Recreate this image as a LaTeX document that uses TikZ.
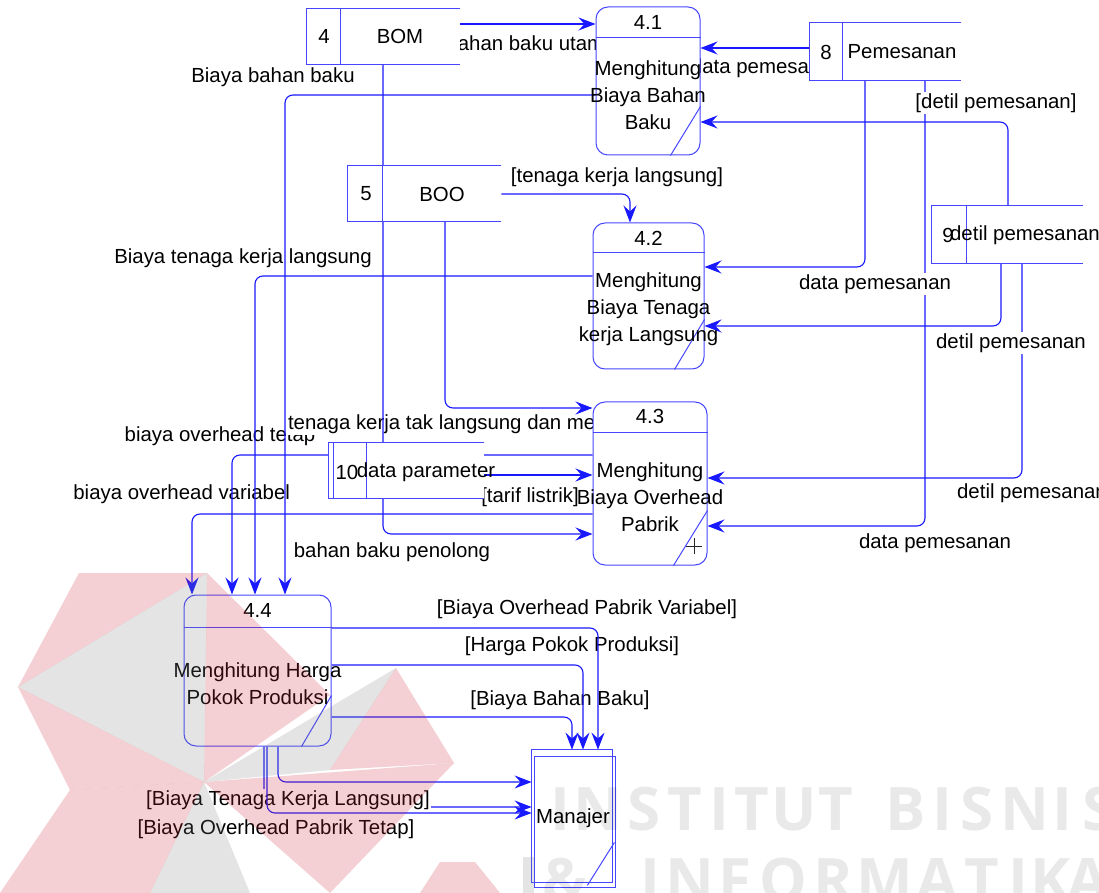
\documentclass[tikz,border=0pt]{standalone}
\usepackage{fontspec}
\setmainfont{Liberation Sans}
\newfontfamily\wmfont{Open Sans}
\usetikzlibrary{arrows.meta,calc}

\definecolor{dfdline}{RGB}{25,25,255}
\definecolor{dfdbox}{RGB}{70,70,255}
\definecolor{wmred}{RGB}{205,40,55}
\definecolor{wmgray}{RGB}{120,120,120}

\newcommand\lbl{\fontsize{10.2}{13.5}\selectfont}

\pgfdeclarelayer{lab}
\pgfdeclarelayer{over}
\pgfdeclarelayer{box}
\pgfdeclarelayer{wm}
\pgfsetlayers{main,lab,over,box,wm}

\tikzset{
  flow/.style={draw=dfdline, line width=0.55pt, rounded corners=4pt,
    -{Stealth[length=8.5pt,width=6.5pt,inset=3pt]}},
  boxline/.style={draw=dfdbox, line width=0.5pt},
  procbox/.style={boxline, fill=white, rounded corners=6pt, inner sep=0pt},
  storebox/.style={fill=white, inner sep=0pt},
  lab/.style={fill=white, inner sep=0.8pt, font=\lbl},
  ptext/.style={align=center, inner sep=0pt, font=\lbl},
  wmletter/.style={anchor=base, inner sep=0pt, text=black, text opacity=0.085,
    font=\wmfont\bfseries\fontsize{30}{30}\selectfont},
  wmr/.style={fill=wmred, fill opacity=0.22, draw=none},
  wmg/.style={fill=wmgray, fill opacity=0.2, draw=none},
}

\begin{document}
\begin{tikzpicture}[x=0.5pt, y=-0.5pt]
\useasboundingbox (0,0) rectangle (1099,893);
\fill[white] (0,0) rectangle (1099,893);

% ---------------- processes, stores and the external entity
\begin{pgfonlayer}{box}
  % process 4.1
  \node[procbox, minimum width=52pt, minimum height=74pt] (p41) at (648,81) {};
  \draw[boxline] (p41.west |- 0,38) -- (p41.east |- 0,38);
  \draw[boxline] ($(p41.south east)+(-30,0)$) -- ($(p41.south east)+(0,-49)$);
  \node[ptext] at (p41.north |- 0,22) {4.1};
  \node[ptext] at (p41.center |- 0,95) {Menghitung\\Biaya Bahan\\Baku};

  % process 4.2
  \node[procbox, minimum width=55.5pt, minimum height=73pt] (p42) at (648.5,296) {};
  \draw[boxline] (p42.west |- 0,253) -- (p42.east |- 0,253);
  \draw[boxline] ($(p42.south east)+(-30,0)$) -- ($(p42.south east)+(0,-50)$);
  \node[ptext] at (p42.north |- 0,238) {4.2};
  \node[ptext] at (p42.center |- 0,309) {Menghitung\\Biaya Tenaga\\kerja Langsung};

  % process 4.3
  \node[procbox, minimum width=57pt, minimum height=81.5pt] (p43) at (650,483.5) {};
  \draw[boxline] (p43.west |- 0,433) -- (p43.east |- 0,433);
  \draw[boxline] ($(p43.south east)+(-34,0)$) -- ($(p43.south east)+(0,-55)$);
  \draw[black!85, line width=0.45pt] (694,538) -- (694,554) (686,546) -- (702,546);
  \node[ptext] at (p43.north |- 0,416) {4.3};
  \node[ptext] at (p43.center |- 0,497) {Menghitung\\Biaya Overhead\\Pabrik};

  % process 4.4
  \node[procbox, minimum width=73.5pt, minimum height=75.5pt] (p44) at (257.5,670.5) {};
  \draw[boxline] (p44.west |- 0,627) -- (p44.east |- 0,627);
  \draw[boxline] ($(p44.south east)+(-30,0)$) -- ($(p44.south east)+(0,-51)$);
  \node[ptext] at (p44.north |- 0,610) {4.4};
  \node[ptext] at (p44.center |- 0,684) {Menghitung Harga\\Pokok Produksi};

  % data store 4
  \node[storebox, minimum width=76.5pt, minimum height=27.5pt] (s4) at (383.5,36.5) {};
  \draw[boxline] (s4.north east) -- (s4.north west) -- (s4.south west) -- (s4.south east);
  \draw[boxline] ($(s4.north west)+(34,0)$) -- ($(s4.south west)+(34,0)$);
  \node[ptext] at (324,36) {4};
  \node[ptext] at (400,36) {BOM};

  % data store 8
  \node[storebox, minimum width=75.5pt, minimum height=28.5pt] (s8) at (885.5,51.5) {};
  \draw[boxline] (s8.north east) -- (s8.north west) -- (s8.south west) -- (s8.south east);
  \draw[boxline] ($(s8.north west)+(33,0)$) -- ($(s8.south west)+(33,0)$);
  \node[ptext] at (826,52) {8};
  \node[ptext] at (902,52) {Pemesanan};

  % data store 5
  \node[storebox, minimum width=76.5pt, minimum height=27.5pt] (s5) at (424.5,193.5) {};
  \draw[boxline] (s5.north east) -- (s5.north west) -- (s5.south west) -- (s5.south east);
  \draw[boxline] ($(s5.north west)+(35,0)$) -- ($(s5.south west)+(35,0)$);
  \node[ptext] at (366,194) {5};
  \node[ptext] at (442,194) {BOO};

  % data store 9
  \node[storebox, minimum width=75.5pt, minimum height=28.5pt] (s9) at (1007.5,234.5) {};
  \draw[boxline] (s9.north east) -- (s9.north west) -- (s9.south west) -- (s9.south east);
  \draw[boxline] ($(s9.north west)+(35,0)$) -- ($(s9.south west)+(35,0)$);
  \node[ptext] at (948,235) {9};
  \node[ptext] at (1025,235) {detil pemesanan};

  % data store 10 (double left edge)
  \node[storebox, minimum width=77.5pt, minimum height=27.5pt] (s10) at (406.5,470.5) {};
  \draw[boxline] (s10.north east) -- (s10.north west) -- (s10.south west) -- (s10.south east);
  \draw[boxline] ($(s10.north west)+(5,0)$) -- ($(s10.south west)+(5,0)$);
  \draw[boxline] ($(s10.north west)+(38,0)$) -- ($(s10.south west)+(38,0)$);
  \node[ptext] at (347,472) {10};
  \node[ptext] at (426,472) {data parameter};

  % external entity with its shadow outline
  \node[storebox, minimum width=40pt, minimum height=66pt] (ext) at (572,816) {};
  \fill[white] ($(ext.north west)+(3,7)$) rectangle ($(ext.south east)+(3,5)$);
  \draw[boxline] ($(ext.north west)+(3,7)$) rectangle ($(ext.south east)+(3,5)$);
  \draw[boxline] (ext.north west) rectangle (ext.south east);
  \draw[boxline] ($(ext.south east)+(-25,3)$) -- ($(ext.south east)+(2,-40)$);
  \node[ptext] at (573,818) {Manajer};
\end{pgfonlayer}

% ---------------- flows that run beneath the labels
\draw[flow] (s9.south -| 1022,0) -- (1022,478) -- (p43.east |- 0,478);
\draw[flow] (s8.south -| 925,0) -- (925,526) -- (p43.east |- 0,526);
\draw[flow] (p44.south -| 264,0) -- (264,807) -- (ext.west |- 0,807);

% ---------------- flow labels
\begin{pgfonlayer}{lab}
  \node[lab] at (531,43) {bahan baku utama};
  \node[lab] at (767,68) {data pemesanan};
  \node[lab] at (996,103) {[detil pemesanan]};
  \node[lab] at (273,77) {Biaya bahan baku};
  \node[lab] at (617,177) {[tenaga kerja langsung]};
  \node[lab] at (875,284) {data pemesanan};
  \node[lab] at (1011,343) {detil pemesanan};
  \node[lab] at (243,258) {Biaya tenaga kerja langsung};
  \node[lab] at (220,436) {biaya overhead tetap};
  \node[lab, anchor=west] at (286,424) {tenaga kerja tak langsung dan mesin};
  \node[lab] at (392,552) {bahan baku penolong};
  \node[lab] at (530,497) {[tarif listrik]};
  \node[lab, anchor=east] at (292,494) {biaya overhead variabel};
  \node[lab] at (1032,493) {detil pemesanan};
  \node[lab] at (935,543) {data pemesanan};
  \node[lab] at (587,609) {[Biaya Overhead Pabrik Variabel]};
  \node[lab] at (572,646) {[Harga Pokok Produksi]};
  \node[lab] at (560,700) {[Biaya Bahan Baku]};
  \node[lab] at (288,800) {[Biaya Tenaga Kerja Langsung]};
  \node[lab] at (276,829) {[Biaya Overhead Pabrik Tetap]};
\end{pgfonlayer}

% ---------------- flows drawn over the labels
\begin{pgfonlayer}{over}
  \draw[flow] (s4.east |- 0,24) -- (p41.west |- 0,24);
  \draw[flow] (s8.west |- 0,48) -- (p41.east |- 0,48);
  \draw[flow] (s9.north -| 1008,0) -- (1008,122) -- (p41.east |- 0,122);
  \draw[flow] (p41.west |- 0,95) -- (285,95) -- (p44.north -| 285,0);
  \draw[flow] (s5.east |- 0,194) -- (630,194) -- (p42.north -| 630,0);
  \draw[flow] (s8.south -| 865,0) -- (865,267) -- (p42.east |- 0,267);
  \draw[flow] (s9.south -| 1001,0) -- (1001,326) -- (p42.east |- 0,326);
  \draw[flow] (p42.west |- 0,276) -- (255,276) -- (p44.north -| 255,0);
  \draw[flow] (s5.south -| 445,0) -- (445,408) -- (p43.west |- 0,408);
  \draw[flow] (s4.south -| 383,0) -- (383,534) -- (p43.west |- 0,534);
  \draw[flow] (s10.east |- 0,475) -- (p43.west |- 0,475);
  \draw[flow] (p43.west |- 0,455) -- (232,455) -- (p44.north -| 232,0);
  \draw[flow] (p43.west |- 0,514) -- (192,514) -- (p44.north -| 192,0);
  \draw[flow] (p44.east |- 0,628) -- (598,628) -- (ext.north -| 598,0);
  \draw[flow] (p44.east |- 0,665) -- (583,665) -- (ext.north -| 583,0);
  \draw[flow] (p44.east |- 0,717) -- (572,717) -- (ext.north -| 572,0);
  \draw[flow] (p44.south -| 278,0) -- (278,782) -- (ext.west |- 0,782);
  \draw[flow] (p44.south -| 267,0) -- (267,813) -- (ext.west |- 0,813);
\end{pgfonlayer}

% ---------------- watermark logo and lettering
\begin{pgfonlayer}{wm}
  \path[wmr] (79,573) -- (207,573) -- (18,687) -- cycle;
  \path[wmg] (207,573) -- (18,687) -- (204,782) -- cycle;
  \path[wmr] (207,573) -- (330,695) -- (204,782) -- cycle;
  \path[wmr] (18,687) -- (70,790) -- (204,782) -- cycle;
  \path[wmr] (0,893) -- (150,893) -- (204,782) -- (70,790) -- cycle;
  \path[wmg] (204,782) -- (150,893) -- (250,893) -- cycle;
  \path[wmr] (204,782) -- (330,893) -- (454,763) -- cycle;
  \path[wmg] (204,782) -- (396,668) -- (330,770) -- cycle;
  \path[wmr] (396,668) -- (454,763) -- (330,770) -- cycle;
  \path[wmr] (440,862) -- (475,862) -- (500,893) -- (420,893) -- cycle;
  \path[wmg] (523,857) rectangle (534,893);
  \foreach \c/\xx in {I/560,N/598,S/644,T/685,I/719,T/752,U/794,T/836,
                      B/906,I/942,S/977,N/1025,I/1062,S/1099}
    \node[wmletter] at (\xx,830) {\c};
  \foreach \c/\xx in {\&/565,I/650,N/690,F/735,O/783,R/833,M/885,A/937,
                      T/982,I/1018,K/1050,A/1088}
    \node[wmletter] at (\xx,901) {\c};
\end{pgfonlayer}
\end{tikzpicture}
\end{document}
